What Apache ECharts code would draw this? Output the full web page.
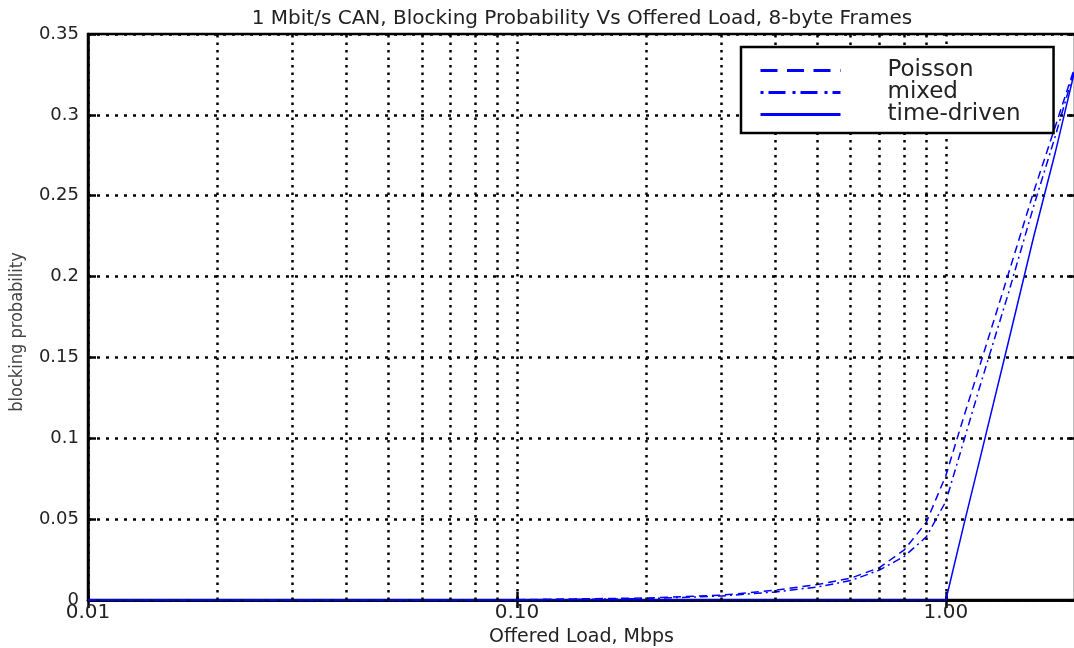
<!DOCTYPE html>
<html>
<head>
<meta charset="utf-8">
<script src="https://cdn.jsdelivr.net/npm/echarts@6/dist/echarts.min.js"></script>
<style>
  html, body { margin: 0; padding: 0; background: #fff; }
  #chart { width: 1074px; height: 648px; }
</style>
</head>
<body>
<div id="chart"></div>
<script>
// Offered load (Mbps) sample points
const loads = [0.01, 0.02, 0.05, 0.1, 0.2, 0.3, 0.4, 0.5, 0.6, 0.7, 0.8, 0.9, 1.0, 1.1, 1.2, 1.4, 1.6, 1.8, 2.0];
// Blocking probability per traffic model
const poisson    = [0, 0, 0, 0.0002, 0.0012, 0.003, 0.006, 0.0095, 0.0135, 0.020, 0.031, 0.048, 0.077, 0.113, 0.145, 0.202, 0.252, 0.293, 0.330];
const mixed      = [0, 0, 0, 0.0001, 0.0008, 0.0025, 0.005, 0.008, 0.012, 0.0185, 0.027, 0.039, 0.061, 0.098, 0.132, 0.190, 0.243, 0.287, 0.329];
const timeDriven = [0, 0, 0, 0, 0, 0, 0, 0, 0, 0, 0, 0, 0, 0.046, 0.087, 0.160, 0.224, 0.277, 0.328];
// Minor log-grid positions
const minorGrid = [0.02, 0.03, 0.04, 0.05, 0.06, 0.07, 0.08, 0.09, 0.2, 0.3, 0.4, 0.5, 0.6, 0.7, 0.8, 0.9];
const seriesNames = ['Poisson', 'mixed', 'time-driven'];

const FONT = 'DejaVu Sans';
const TXT = '#222';
const BLUE = '#0000ff';
const dotGridV = { color: '#000', width: 2.5, type: [2.5, 5] };
const dotGridH = { color: '#000', width: 2.5, type: [3, 6] };

const pairs = (ys) => loads.map((x, i) => [x, ys[i]]);
const isDecade = (v) => Math.abs(Math.log10(v) - Math.round(Math.log10(v))) < 1e-9;

const chart = echarts.init(document.getElementById('chart'));
chart.setOption({
  animation: false,
  backgroundColor: '#fff',
  title: {
    text: '1 Mbit/s CAN, Blocking Probability Vs Offered Load, 8-byte Frames',
    left: 577, top: 4, textAlign: 'center',
    textStyle: { fontFamily: FONT, fontSize: 20, fontWeight: 'normal', color: TXT }
  },
  grid: {
    left: 88, right: -1, top: 34, bottom: 48,
    outerBoundsMode: 'none', containLabel: false,
    show: true, borderColor: '#000', borderWidth: 2.5, backgroundColor: 'transparent'
  },
  legend: {
    data: [
      { name: seriesNames[0], lineStyle: { type: [17, 9.5] } },
      { name: seriesNames[1], lineStyle: { type: [3, 5, 17, 7] } },
      { name: seriesNames[2] }
    ],
    orient: 'vertical',
    left: 741, top: 47, z: 10,
    padding: [12, 33, 7, 18],
    itemWidth: 80, itemHeight: 16, itemGap: -1,
    backgroundColor: '#fff',
    borderColor: '#000', borderWidth: 2.5,
    itemStyle: { opacity: 0, borderWidth: 0 },
    lineStyle: { width: 3 },
    textStyle: { fontFamily: FONT, fontSize: 23, color: TXT, padding: [0, 0, 0, 42] }
  },
  xAxis: [{
    type: 'log', logBase: 10, min: 0.01, max: 2,
    name: 'Offered Load, Mbps', nameLocation: 'middle', nameGap: 27,
    nameTextStyle: { fontFamily: FONT, fontSize: 19, color: TXT },
    axisLine: { show: true, lineStyle: { color: '#000', width: 2.5 } },
    axisTick: { show: true, inside: true, length: 8, lineStyle: { color: '#000', width: 2.5 } },
    axisLabel: {
      fontFamily: FONT, fontSize: 20, color: TXT, margin: 3, showMaxLabel: false,
      formatter: (v) => isDecade(v) ? v.toFixed(2) : ''
    },
    splitLine: { show: true, lineStyle: dotGridV },
    minorTick: { show: false }
  }, {
    type: 'log', logBase: 10, min: 0.01, max: 2, position: 'top',
    axisLine: { show: true, lineStyle: { color: '#000', width: 2.5 } },
    axisTick: { show: true, inside: true, length: 8, lineStyle: { color: '#000', width: 2.5 } },
    axisLabel: { show: false },
    splitLine: { show: false }
  }],
  yAxis: [{
    type: 'value', min: 0, max: 0.35, interval: 0.05,
    name: 'blocking probability', nameLocation: 'middle', nameRotate: 90, nameGap: 62,
    nameTextStyle: { fontFamily: 'DejaVu Sans Condensed', fontSize: 18, color: '#444', padding: [0, 30, 0, 0] },
    axisLine: { show: true, lineStyle: { color: '#000', width: 2.5 } },
    axisTick: { show: true, inside: true, length: 8, lineStyle: { color: '#000', width: 2.5 } },
    axisLabel: { fontFamily: FONT, fontSize: 18, color: TXT, margin: 9 },
    splitLine: { show: true, lineStyle: dotGridH }
  }, {
    type: 'value', min: 0, max: 0.35, interval: 0.05, position: 'right',
    axisLine: { show: true, lineStyle: { color: '#000', width: 2.5 } },
    axisTick: { show: true, inside: true, length: 8, lineStyle: { color: '#000', width: 2.5 } },
    axisLabel: { show: false },
    splitLine: { show: false }
  }],
  series: [
    {
      // carries the minor log-decade grid lines
      name: 'grid', type: 'line', data: [], z: 1, silent: true,
      markLine: {
        silent: true, symbol: ['none', 'none'], label: { show: false },
        lineStyle: dotGridV, emphasis: { disabled: true },
        data: minorGrid.map((v) => ({ xAxis: v }))
      }
    },
    {
      name: seriesNames[0], type: 'line', data: pairs(poisson), z: 3,
      showSymbol: false, symbol: 'none', color: BLUE,
      lineStyle: { color: BLUE, width: 1.5, type: [8, 5] }
    },
    {
      name: seriesNames[1], type: 'line', data: pairs(mixed), z: 3,
      showSymbol: false, symbol: 'none', color: BLUE,
      lineStyle: { color: BLUE, width: 1.5, type: [8, 4, 2, 4] }
    },
    {
      name: seriesNames[2], type: 'line', data: pairs(timeDriven), z: 3,
      showSymbol: false, symbol: 'none', color: BLUE,
      lineStyle: { color: BLUE, width: 1.5 }
    }
  ]
});
</script>
</body>
</html>
